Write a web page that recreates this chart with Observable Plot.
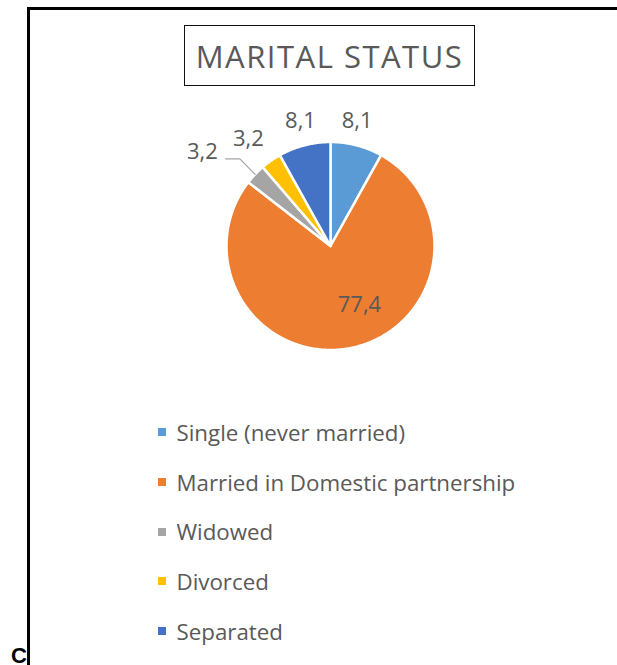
<!DOCTYPE html>
<html>
<head>
<meta charset="utf-8">
<script src="https://cdn.jsdelivr.net/npm/d3@7"></script>
<script src="https://cdn.jsdelivr.net/npm/@observablehq/plot@0.6"></script>
<style>
  html, body { margin: 0; padding: 0; background: #fff; }
  body { width: 617px; height: 665px; overflow: hidden; position: relative; font-family: "Open Sans", sans-serif; }
  #frame { position: absolute; left: 27px; top: 7px; width: 700px; height: 700px; border-left: 3.5px solid #000; border-top: 3px solid #000; }
  #title { position: absolute; left: 184px; top: 25px; width: 291px; height: 61px; box-sizing: border-box; border: 1.5px solid #111;
           color: #595959; font-size: 31px; letter-spacing: 1.5px; display: flex; align-items: center; justify-content: center; white-space: nowrap; }
  #pie { position: absolute; left: 180px; top: 100px; }
  #legend { position: absolute; left: 157.5px; top: 407.5px; width: 440px; }
  #legend [class$="-swatch"] { height: 49.7px; padding: 0; margin: 0; display: flex; align-items: center; }
  #legend [class$="-swatch"] > svg { margin-right: 11px; }
  #cap { position: absolute; left: 11px; top: 645px; font: bold 22px "Liberation Sans", Arial, sans-serif; line-height: 22px; color: #000; }
</style>
</head>
<body>
<div id="frame"></div>
<div id="title"></div>
<div id="pie"></div>
<div id="legend"></div>
<div id="cap">C</div>
<script>
// ---- data ----
const titleText = "MARITAL STATUS";
const categories = ["Single (never married)", "Married in Domestic partnership", "Widowed", "Divorced", "Separated"];
const values = [8.1, 77.4, 3.2, 3.2, 8.1];
const valueLabels = ["8,1", "77,4", "3,2", "3,2", "8,1"];
const colors = ["#5B9BD5", "#ED7D31", "#A5A5A5", "#FFC000", "#4472C4"];

// ---- layout / style ----
const R = 104;                 // pie radius in px
const W = 300, H = 270;        // svg size
const CX = 150, CY = 145.5;    // pie centre inside svg (px)
const labelRadius = [1.2, 0.6, 1.2, 1.2, 1.2];      // relative to radius
const labelNudge = [[-4.7, -3.9], [16.5, -2.6], [-37.6, -8.5], [-10.6, -4.9], [1.4, -3.9]]; // px
const leaderIndex = 2;          // slice with a leader line (Widowed)
const textColor = "#595959";

document.getElementById("title").textContent = titleText;

// ---- slices (angles clockwise from 12 o'clock) ----
const total = d3.sum(values);
let acc = 0;
const slices = values.map((v, i) => {
  const a0 = acc / total * 2 * Math.PI;
  acc += v;
  const a1 = acc / total * 2 * Math.PI;
  return {key: categories[i], value: v, label: valueLabels[i], a0, a1, mid: (a0 + a1) / 2, i};
});
const polyPts = [];
for (const s of slices) {
  polyPts.push({key: s.key, x: 0, y: 0});
  const n = Math.max(2, Math.ceil((s.a1 - s.a0) / 0.01));
  for (let k = 0; k <= n; k++) {
    const a = s.a0 + (s.a1 - s.a0) * k / n;
    polyPts.push({key: s.key, x: Math.sin(a), y: Math.cos(a)});
  }
}

// label marks
const labelMarks = slices.map(s => Plot.text([s], {
  x: d => labelRadius[d.i] * Math.sin(d.mid),
  y: d => labelRadius[d.i] * Math.cos(d.mid),
  text: "label",
  dx: labelNudge[s.i][0], dy: labelNudge[s.i][1],
  fill: textColor, fontSize: 22, fontFamily: "Open Sans", lineAnchor: "middle"
}));

// leader line for the Widowed slice
const ls = slices[leaderIndex];
const ex = Math.sin(ls.mid), ey = Math.cos(ls.mid);
const leader = [
  {x: ex, y: ey},
  {x: ex - 15.3 / R, y: ey + 15.5 / R},
  {x: ex - 29.6 / R, y: ey + 15.5 / R}
];

const pie = Plot.plot({
  width: W, height: H,
  margin: 0,
  x: {domain: [-CX / R, (W - CX) / R], axis: null},
  y: {domain: [-(H - CY) / R, CY / R], axis: null},
  color: {domain: categories, range: colors},
  style: {background: "transparent", overflow: "visible"},
  marks: [
    Plot.line(polyPts, {x: "x", y: "y", z: "key", fill: "key", stroke: "white", strokeWidth: 2.5, strokeLinejoin: "round", curve: "linear-closed"}),
    Plot.line(leader, {x: "x", y: "y", stroke: "#A6A6A6", strokeWidth: 1.3}),
    ...labelMarks
  ]
});
document.getElementById("pie").appendChild(pie);

const legend = Plot.legend({
  color: {domain: categories, range: colors},
  legend: "swatches",
  columns: 1,
  swatchSize: 8,
  style: {fontSize: "22.3px", fontFamily: "Open Sans", color: textColor}
});
document.getElementById("legend").appendChild(legend);
</script>
</body>
</html>
